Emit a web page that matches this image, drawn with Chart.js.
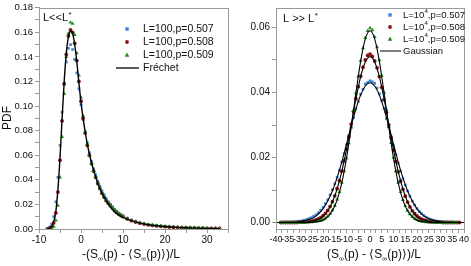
<!DOCTYPE html>
<html>
<head>
<meta charset="utf-8">
<script src="https://cdn.jsdelivr.net/npm/chart.js@4/dist/chart.umd.min.js"></script>
<style>
  html, body { margin: 0; padding: 0; background: #fff; }
  #wrap { position: relative; width: 471px; height: 266px; }
  canvas { position: absolute; top: 0; }
  #left-chart { left: 0; }
  #right-chart { left: 240px; }
</style>
</head>
<body>
<div id="wrap">
  <canvas id="left-chart" width="240" height="266"></canvas>
  <canvas id="right-chart" width="231" height="266"></canvas>
</div>
<script>
// ---- left panel: L << L*, Frechet ----
const smallX = [-8, -7.5, -7, -6.5, -6, -5.5, -5, -4.5, -4, -3.5, -3, -2.5, -2, -1.5, -1, -0.5, 0, 0.5, 1, 1.5, 2, 2.5, 3, 3.5, 4, 4.5, 5, 5.5, 6, 6.5, 7, 7.5, 8, 8.5, 9, 9.5, 10,
  11, 12, 13, 14, 15, 16, 17, 18, 19, 20, 21, 22, 23, 24, 25, 26, 27, 28, 29, 30, 31, 32, 33];
const small507 = [0.0005, 0.0015, 0.004, 0.010, 0.022, 0.042, 0.068, 0.095, 0.118, 0.136, 0.147, 0.150, 0.146, 0.138, 0.127, 0.114, 0.101, 0.089, 0.079, 0.070, 0.062, 0.055, 0.049, 0.044, 0.039, 0.035, 0.031, 0.028, 0.025, 0.022, 0.020, 0.018, 0.016, 0.0145, 0.013, 0.0118, 0.0107,
  0.0088, 0.0073, 0.0061, 0.0051, 0.0043, 0.0037, 0.0032, 0.0027, 0.0024, 0.0021, 0.0018, 0.0016, 0.0014, 0.0012, 0.0011, 0.0010, 0.0009, 0.0008, 0.0007, 0.0006, 0.0005, 0.0005, 0.0004];
const small508 = [0, 0.0005, 0.0015, 0.005, 0.013, 0.030, 0.056, 0.088, 0.118, 0.142, 0.157, 0.162, 0.160, 0.151, 0.137, 0.120, 0.104, 0.090, 0.078, 0.068, 0.060, 0.053, 0.047, 0.042, 0.037, 0.033, 0.029, 0.026, 0.023, 0.021, 0.019, 0.017, 0.015, 0.0135, 0.012, 0.011, 0.010,
  0.0082, 0.0068, 0.0057, 0.0047, 0.0040, 0.0034, 0.0029, 0.0025, 0.0022, 0.0019, 0.0016, 0.0014, 0.0012, 0.0011, 0.0010, 0.0009, 0.0008, 0.0007, 0.0006, 0.0005, 0.0005, 0.0004, 0.0004];
const small509 = [0, 0, 0.0005, 0.002, 0.007, 0.019, 0.042, 0.075, 0.110, 0.140, 0.159, 0.168, 0.167, 0.158, 0.143, 0.125, 0.107, 0.092, 0.079, 0.069, 0.060, 0.053, 0.047, 0.042, 0.037, 0.033, 0.029, 0.026, 0.023, 0.021, 0.019, 0.017, 0.0153, 0.0138, 0.0125, 0.0113, 0.0103,
  0.0085, 0.0071, 0.0060, 0.0050, 0.0043, 0.0037, 0.0032, 0.0028, 0.0024, 0.0021, 0.0019, 0.0017, 0.0015, 0.0013, 0.0012, 0.0011, 0.0010, 0.0009, 0.0008, 0.0007, 0.0006, 0.0006, 0.0005];
const frechetX = [-8, -7.5, -7, -6.5, -6, -5.5, -5, -4.5, -4, -3.5, -3, -2.5, -2, -1.5, -1, -0.5, 0, 0.5, 1, 1.5, 2, 2.5, 3,
  4, 5, 6, 7, 8, 9, 10, 12, 14, 16, 18, 20, 23, 26, 30, 33];
const frechetY = [0, 0.0005, 0.002, 0.006, 0.014, 0.032, 0.058, 0.090, 0.120, 0.143, 0.156, 0.161, 0.159, 0.150, 0.136, 0.119, 0.103, 0.090, 0.079, 0.069, 0.061, 0.054, 0.048,
  0.037, 0.029, 0.023, 0.018, 0.014, 0.0115, 0.0095, 0.0068, 0.0048, 0.0035, 0.0026, 0.0020, 0.0013, 0.0009, 0.0005, 0.0003];

// ---- right panel: L >> L*, Gaussian ----
const largeX = [-38, -37, -36, -35, -34, -33, -32, -31, -30, -29, -28, -27, -26, -25, -24, -23, -22, -21, -20, -19, -18, -17, -16, -15, -14, -13, -12, -11, -10, -9, -8, -7, -6, -5, -4, -3, -2, -1,
  0, 1, 2, 3, 4, 5, 6, 7, 8, 9, 10, 11, 12, 13, 14, 15, 16, 17, 18, 19, 20, 21, 22, 23, 24, 25, 26, 27, 28, 29, 30, 31, 32, 33, 34, 35, 36, 37, 38];
const large507 = [0, 0.0001, 0.0001, 0.0001, 0.0001, 0.0002, 0.0002, 0.0003, 0.0004, 0.0005, 0.0007, 0.0009, 0.0012, 0.0015, 0.0019, 0.0024, 0.0030, 0.0038, 0.0047, 0.0058, 0.0070, 0.0085, 0.0101, 0.0119, 0.0139, 0.0161, 0.0186, 0.0212, 0.0239, 0.0267, 0.0296, 0.0323, 0.0350, 0.0372, 0.0395, 0.0410, 0.0426, 0.0431,
  0.0436, 0.0433, 0.0428, 0.0414, 0.0396, 0.0375, 0.0351, 0.0320, 0.0293, 0.0264, 0.0236, 0.0209, 0.0182, 0.0158, 0.0135, 0.0115, 0.0097, 0.0081, 0.0066, 0.0054, 0.0043, 0.0034, 0.0027, 0.0021, 0.0016, 0.0012, 0.0009, 0.0007, 0.0005, 0.0004, 0.0003, 0.0002, 0.0002, 0.0001, 0.0001, 0.0001, 0, 0, 0];
const large508 = [0, 0, 0, 0, 0, 0, 0, 0, 0.0001, 0.0001, 0.0001, 0.0002, 0.0003, 0.0004, 0.0006, 0.0008, 0.0011, 0.0015, 0.0021, 0.0028, 0.0037, 0.0049, 0.0064, 0.0082, 0.0104, 0.0129, 0.0158, 0.0190, 0.0226, 0.0264, 0.0303, 0.0342, 0.0381, 0.0418, 0.0450, 0.0478, 0.0500, 0.0514,
  0.0518, 0.0511, 0.0497, 0.0476, 0.0449, 0.0416, 0.0378, 0.0339, 0.0300, 0.0261, 0.0223, 0.0188, 0.0156, 0.0127, 0.0102, 0.0081, 0.0063, 0.0048, 0.0036, 0.0027, 0.0020, 0.0014, 0.0010, 0.0007, 0.0005, 0.0003, 0.0002, 0.0002, 0.0001, 0.0001, 0.0001, 0, 0, 0, 0, 0, 0, 0, 0];
const large509 = [0, 0, 0, 0, 0, 0, 0, 0, 0, 0, 0, 0.0001, 0.0001, 0.0001, 0.0002, 0.0003, 0.0004, 0.0006, 0.0009, 0.0013, 0.0019, 0.0027, 0.0038, 0.0052, 0.0071, 0.0094, 0.0123, 0.0158, 0.0198, 0.0244, 0.0293, 0.0345, 0.0398, 0.0450, 0.0498, 0.0537, 0.0568, 0.0590,
  0.0598, 0.0592, 0.0571, 0.0540, 0.0500, 0.0452, 0.0400, 0.0347, 0.0294, 0.0245, 0.0199, 0.0158, 0.0123, 0.0094, 0.0070, 0.0051, 0.0037, 0.0026, 0.0018, 0.0012, 0.0008, 0.0005, 0.0003, 0.0002, 0.0001, 0.0001, 0.0001, 0, 0, 0, 0, 0, 0, 0, 0, 0, 0, 0];
const gaussX = [-40, -38, -36, -34, -32, -30, -28, -26, -24, -22, -20, -18, -16, -14, -12, -10, -8, -6, -4, -2, 0,
  2, 4, 6, 8, 10, 12, 14, 16, 18, 20, 22, 24, 26, 28, 30, 32, 34, 36, 38, 40];
const gauss507 = [0, 0, 0, 0.0001, 0.0001, 0.0002, 0.0005, 0.0009, 0.0015, 0.0026, 0.0042, 0.0066, 0.0097, 0.0138, 0.0186, 0.0241, 0.0297, 0.0349, 0.0392, 0.0420, 0.0430,
  0.0420, 0.0392, 0.0349, 0.0297, 0.0241, 0.0186, 0.0138, 0.0097, 0.0066, 0.0042, 0.0026, 0.0015, 0.0009, 0.0005, 0.0002, 0.0001, 0.0001, 0, 0, 0];
const gauss508 = [0, 0, 0, 0, 0, 0, 0.0001, 0.0002, 0.0005, 0.0010, 0.0019, 0.0036, 0.0063, 0.0103, 0.0157, 0.0225, 0.0302, 0.0380, 0.0448, 0.0494, 0.0510,
  0.0494, 0.0448, 0.0380, 0.0302, 0.0225, 0.0157, 0.0103, 0.0063, 0.0036, 0.0019, 0.0010, 0.0005, 0.0002, 0.0001, 0, 0, 0, 0, 0, 0];
const gauss509 = [0, 0, 0, 0, 0, 0, 0, 0, 0.0001, 0.0003, 0.0007, 0.0017, 0.0036, 0.0069, 0.0122, 0.0198, 0.0293, 0.0398, 0.0495, 0.0565, 0.0590,
  0.0565, 0.0495, 0.0398, 0.0293, 0.0198, 0.0122, 0.0069, 0.0036, 0.0017, 0.0007, 0.0003, 0.0001, 0, 0, 0, 0, 0, 0, 0, 0];

const BLUE = '#3b86dc';
const RED = '#8e1414';
const GREEN = '#1e8a1e';
const AXIS = '#9a9a9a';
const FONT = '"Liberation Sans", Arial, sans-serif';

function pts(xs, ys) {
    return xs.map((x, i) => ({ x: x, y: ys[i] }));
}

function scatterSet(xs, ys, color, style, radius, order) {
    return {
        data: pts(xs, ys),
        showLine: false,
        pointStyle: style,
        pointRadius: radius,
        pointBorderWidth: 0,
        pointBackgroundColor: color,
        order: order
    };
}

function lineSet(xs, ys, width) {
    return {
        data: pts(xs, ys),
        showLine: true,
        borderColor: '#000',
        borderWidth: width,
        pointRadius: 0,
        cubicInterpolationMode: 'monotone',
        order: 0
    };
}

// draws text made of [text, isSub] parts, centred on cx
function drawParts(ctx, parts, cx, cy, size) {
    const subSize = Math.round(size * 0.6);
    let total = 0;
    parts.forEach(p => {
        ctx.font = (p[1] ? subSize : size) + 'px ' + FONT;
        total += ctx.measureText(p[0]).width;
    });
    let x = cx - total / 2;
    ctx.textAlign = 'left';
    ctx.textBaseline = 'middle';
    parts.forEach(p => {
        ctx.font = (p[1] ? subSize : size) + 'px ' + FONT;
        ctx.fillText(p[0], x, p[1] ? cy + size * 0.3 : cy);
        x += ctx.measureText(p[0]).width;
    });
}

function drawMarker(ctx, style, color, x, y) {
    ctx.fillStyle = color;
    if (style === 'rect') {
        ctx.fillRect(x - 1.7, y - 1.7, 3.4, 3.4);
    } else if (style === 'circle') {
        ctx.beginPath();
        ctx.arc(x, y, 1.9, 0, Math.PI * 2);
        ctx.fill();
    } else {
        ctx.beginPath();
        ctx.moveTo(x, y - 2.4);
        ctx.lineTo(x + 2.3, y + 1.7);
        ctx.lineTo(x - 2.3, y + 1.7);
        ctx.closePath();
        ctx.fill();
    }
}

const decorPlugin = {
    id: 'decor',
    afterDraw(chart, args, opts) {
        const ctx = chart.ctx;
        const a = chart.chartArea;
        ctx.save();
        // box around plot
        ctx.strokeStyle = AXIS;
        ctx.lineWidth = 1;
        ctx.strokeRect(Math.round(a.left) + 0.5, Math.round(a.top) + 0.5, Math.round(a.right - a.left), Math.round(a.bottom - a.top));
        ctx.fillStyle = '#111';

        // legend
        const lg = opts.legend;
        lg.items.forEach((it, i) => {
            const y = lg.ys[i];
            if (it.style === 'line') {
                ctx.strokeStyle = '#000';
                ctx.lineWidth = it.lw || 1.3;
                ctx.beginPath();
                ctx.moveTo(it.x0, y);
                ctx.lineTo(it.x1, y);
                ctx.stroke();
            } else {
                drawMarker(ctx, it.style, it.color, lg.markerX, y);
            }
            ctx.fillStyle = '#111';
            ctx.textAlign = 'left';
            ctx.textBaseline = 'middle';
            let x = lg.textX;
            it.text.forEach(p => {
                ctx.font = (p[1] ? lg.size * 0.65 : lg.size) + 'px ' + FONT;
                ctx.fillText(p[0], x, p[1] ? y - lg.size * 0.35 : y);
                x += ctx.measureText(p[0]).width;
            });
        });

        // regime label
        const rl = opts.regime;
        ctx.textAlign = 'left';
        ctx.textBaseline = 'middle';
        ctx.font = '11px ' + FONT;
        ctx.fillText(rl.text, rl.x, rl.y);
        const w = ctx.measureText(rl.text).width;
        ctx.font = '8px ' + FONT;
        ctx.fillText('*', rl.x + w + 0.5, rl.y - 3);

        // axis titles
        ctx.fillStyle = '#111';
        drawParts(ctx, opts.xTitle, opts.xTitleX, 255, 12);
        if (opts.yTitle) {
            ctx.save();
            ctx.translate(8, 118);
            ctx.rotate(-Math.PI / 2);
            ctx.font = '12px ' + FONT;
            ctx.textAlign = 'center';
            ctx.textBaseline = 'middle';
            ctx.fillText(opts.yTitle, 0, 0);
            ctx.restore();
        }
        ctx.restore();
    }
};

function axisOptions(cfg) {
    return {
        x: {
            type: 'linear',
            min: cfg.xMin, max: cfg.xMax,
            afterFit: s => { s.height = 37; },
            grid: { drawOnChartArea: false, tickLength: 4, color: AXIS },
            border: { color: AXIS },
            ticks: {
                stepSize: cfg.xStep,
                autoSkip: false,
                maxRotation: 0,
                padding: 1,
                color: '#111',
                font: { size: cfg.xFont, family: FONT },
                callback: v => (Math.abs(v % cfg.xLabelEvery) < 1e-9 ? String(v) : '')
            }
        },
        y: {
            type: 'linear',
            min: cfg.yMin, max: cfg.yMax,
            afterFit: s => { s.width = cfg.yWidth; },
            grid: { drawOnChartArea: false, tickLength: 4, color: AXIS },
            border: { color: AXIS },
            ticks: {
                stepSize: 0.01,
                includeBounds: false,
                autoSkip: false,
                padding: 2,
                color: '#111',
                font: { size: cfg.yFont, family: FONT },
                callback: v => (Math.round(v * 100) % 2 === 0 ? v.toFixed(2) : '')
            }
        }
    };
}

const sub = '\u221E';

new Chart(document.getElementById('left-chart'), {
    type: 'scatter',
    data: {
        datasets: [
            lineSet(frechetX, frechetY, 1.4),
            scatterSet(smallX, small509, GREEN, 'triangle', 2.3, 1),
            scatterSet(smallX, small508, RED, 'circle', 1.9, 2),
            scatterSet(smallX, small507, BLUE, 'rect', 1.9, 3)
        ]
    },
    options: {
        responsive: false,
        animation: false,
        layout: { padding: { top: 6, right: 12, left: 0, bottom: 0 } },
        plugins: {
            legend: { display: false },
            tooltip: { enabled: false },
            decor: {
                legend: {
                    markerX: 127, textX: 143, size: 10.5, ys: [29, 42, 55, 68],
                    items: [
                        { style: 'rect', color: BLUE, text: [['L=100,p=0.507', false]] },
                        { style: 'circle', color: RED, text: [['L=100,p=0.508', false]] },
                        { style: 'triangle', color: GREEN, text: [['L=100,p=0.509', false]] },
                        { style: 'line', x0: 116, x1: 139, text: [['Fréchet', false]] }
                    ]
                },
                regime: { text: 'L<<L', x: 43, y: 18 },
                xTitle: [['-(S', false], [sub, true], ['(p) - \u27E8S', false], [sub, true], ['(p)\u27E9)/L', false]],
                xTitleX: 131,
                yTitle: 'PDF'
            }
        },
        scales: axisOptions({
            xMin: -10, xMax: 35, xStep: 5, xLabelEvery: 10, xFont: 10,
            yMin: 0, yMax: 0.18, yWidth: 39, yFont: 9.5
        })
    },
    plugins: [decorPlugin]
});

new Chart(document.getElementById('right-chart'), {
    type: 'scatter',
    data: {
        datasets: [
            lineSet(gaussX, gauss509, 1.1),
            lineSet(gaussX, gauss508, 1.1),
            lineSet(gaussX, gauss507, 1.1),
            scatterSet(largeX, large509, GREEN, 'triangle', 2.3, 1),
            scatterSet(largeX, large508, RED, 'circle', 1.9, 2),
            scatterSet(largeX, large507, BLUE, 'rect', 1.9, 3)
        ]
    },
    options: {
        responsive: false,
        animation: false,
        layout: { padding: { top: 4, right: 7, left: 0, bottom: 0 } },
        plugins: {
            legend: { display: false },
            tooltip: { enabled: false },
            decor: {
                legend: {
                    markerX: 150, textX: 163, size: 9.5, ys: [15, 27, 39, 51],
                    items: [
                        { style: 'rect', color: BLUE, text: [['L=10', false], ['4', true], [',p=0.507', false]] },
                        { style: 'circle', color: RED, text: [['L=10', false], ['4', true], [',p=0.508', false]] },
                        { style: 'triangle', color: GREEN, text: [['L=10', false], ['4', true], [',p=0.509', false]] },
                        { style: 'line', x0: 140, x1: 161, lw: 1, text: [['Gaussian', false]] }
                    ]
                },
                regime: { text: 'L >> L', x: 43, y: 19 },
                xTitle: [['(S', false], [sub, true], ['(p) - \u27E8S', false], [sub, true], ['(p)\u27E9)/L', false]],
                xTitleX: 134
            }
        },
        scales: axisOptions({
            xMin: -40, xMax: 40, xStep: 2.5, xLabelEvery: 5, xFont: 9,
            yMin: -0.002, yMax: 0.066, yWidth: 36, yFont: 10
        })
    },
    plugins: [decorPlugin]
});
</script>
</body>
</html>
